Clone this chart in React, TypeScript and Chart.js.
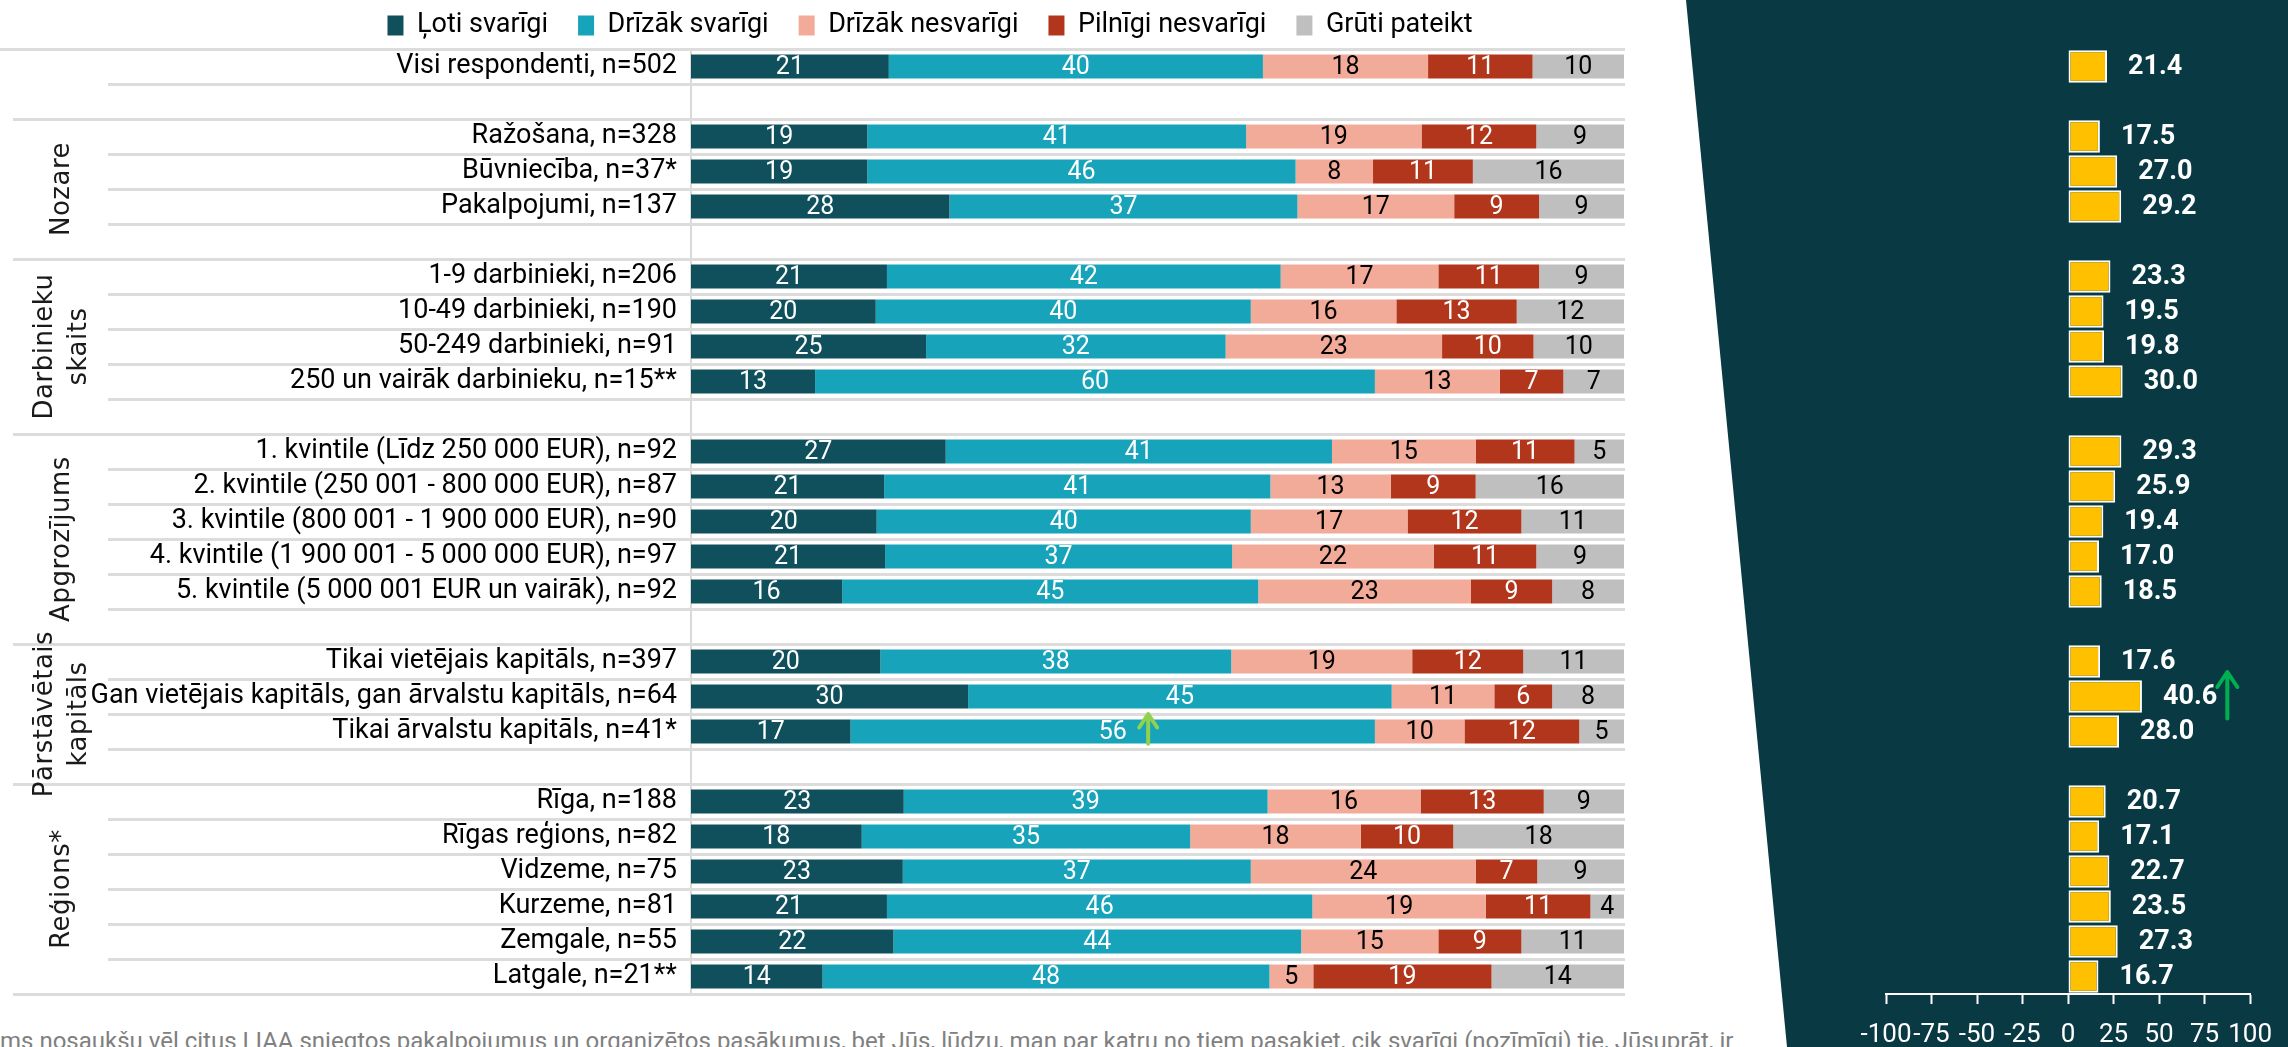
import React, { useEffect, useRef } from 'react';
import { Chart, registerables } from 'chart.js';

Chart.register(...registerables);

const FONT = 'Roboto, "Noto Sans", sans-serif';
const GROUP_FONT = '"DejaVu Sans", Verdana, sans-serif';

// ---- data ----
const categories = [
  'Visi respondenti, n=502',
  '',
  'Ražošana, n=328',
  'Būvniecība, n=37*',
  'Pakalpojumi, n=137',
  '',
  '1-9 darbinieki, n=206',
  '10-49 darbinieki, n=190',
  '50-249 darbinieki, n=91',
  '250 un vairāk darbinieku, n=15**',
  '',
  '1. kvintile (Līdz 250 000 EUR), n=92',
  '2. kvintile (250 001 - 800 000 EUR), n=87',
  '3. kvintile (800 001 - 1 900 000 EUR), n=90',
  '4. kvintile (1 900 001 - 5 000 000 EUR), n=97',
  '5. kvintile (5 000 001 EUR un vairāk), n=92',
  '',
  'Tikai vietējais kapitāls, n=397',
  'Gan vietējais kapitāls, gan ārvalstu kapitāls, n=64',
  'Tikai ārvalstu kapitāls, n=41*',
  '',
  'Rīga, n=188',
  'Rīgas reģions, n=82',
  'Vidzeme, n=75',
  'Kurzeme, n=81',
  'Zemgale, n=55',
  'Latgale, n=21**',
];

const seriesNames = ['Ļoti svarīgi', 'Drīzāk svarīgi', 'Drīzāk nesvarīgi', 'Pilnīgi nesvarīgi', 'Grūti pateikt'];

const veryImportant = [21.2, null, 18.9, 18.9, 27.7, null, 21.0, 19.8, 25.2, 13.3, null, 27.3, 20.7, 19.9, 20.8, 16.2, null, 20.3, 29.7, 17.1, null, 22.8, 18.3, 22.7, 21.0, 21.7, 14.1];
const ratherImportant = [40.1, null, 40.6, 45.9, 37.3, null, 42.2, 40.2, 32.1, 60.0, null, 41.4, 41.4, 40.1, 37.2, 44.6, null, 37.6, 45.4, 56.2, null, 39.0, 35.2, 37.3, 45.6, 43.7, 47.9];
const ratherUnimportant = [17.7, null, 18.8, 8.3, 16.8, null, 16.9, 15.6, 23.2, 13.4, null, 15.4, 12.9, 16.8, 21.6, 22.8, null, 19.4, 11.0, 9.6, null, 16.4, 18.3, 24.1, 18.6, 14.7, 4.7];
const notImportant = [11.2, null, 12.3, 10.7, 9.1, null, 10.8, 12.9, 9.8, 6.8, null, 10.6, 9.1, 12.2, 11.0, 8.7, null, 11.9, 6.2, 12.3, null, 13.2, 9.9, 6.6, 11.2, 8.9, 19.1];
const hardToSay = [9.8, null, 9.4, 16.2, 9.1, null, 9.1, 11.5, 9.7, 6.5, null, 5.3, 15.9, 11.0, 9.4, 7.7, null, 10.8, 7.7, 4.8, null, 8.6, 18.3, 9.3, 3.6, 11.0, 14.2];

const indexScores = [21.4, null, 17.5, 27.0, 29.2, null, 23.3, 19.5, 19.8, 30.0, null, 29.3, 25.9, 19.4, 17.0, 18.5, null, 17.6, 40.6, 28.0, null, 20.7, 17.1, 22.7, 23.5, 27.3, 16.7];

const rightTicks = [-100, -75, -50, -25, 0, 25, 50, 75, 100];

const groups = [
  { lines: ['Nozare'], first: 2, last: 4 },
  { lines: ['Darbinieku', 'skaits'], first: 6, last: 9 },
  { lines: ['Apgrozījums'], first: 11, last: 15 },
  { lines: ['Pārstāvētais', 'kapitāls'], first: 17, last: 19 },
  { lines: ['Reģions*'], first: 21, last: 26 },
];

const footnote =
  'ms nosaukšu vēl citus LIAA sniegtos pakalpojumus un organizētos pasākumus, bet Jūs, lūdzu, man par katru no tiem pasakiet, cik svarīgi (nozīmīgi) tie, Jūsuprāt, ir';

// arrows: [value on x axis, tail index, tip index]
const leftArrow = [49, 19.35, 18.5];
const rightArrow = [87.5, 18.63, 17.3];

// ---- styles ----
const seriesColors = ['#10505c', '#17a3ba', '#f2aa99', '#b2361b', '#bfbfbf'];
const seriesTextColors = ['#ffffff', '#ffffff', '#000000', '#ffffff', '#000000'];

function drawArrow(ctx: CanvasRenderingContext2D, x: number, yTail: number, yTip: number, color: string, lw: number, head: number) {
  ctx.save();
  ctx.strokeStyle = color;
  ctx.lineWidth = lw;
  ctx.lineCap = 'round';
  ctx.lineJoin = 'round';
  ctx.beginPath();
  ctx.moveTo(x, yTail);
  ctx.lineTo(x, yTip + 2);
  ctx.moveTo(x - head, yTip + head * 1.5);
  ctx.lineTo(x, yTip);
  ctx.lineTo(x + head, yTip + head * 1.5);
  ctx.stroke();
  ctx.restore();
}

const rowLinesPlugin = {
  id: 'rowLines',
  beforeDatasetsDraw(chart: any) {
    const { ctx, chartArea, scales } = chart;
    const y = scales.y;
    const longEdges = [-0.5, categories.length - 0.5, ...groups.map((g) => g.first - 0.5)];
    ctx.save();
    ctx.strokeStyle = '#dcdcdc';
    ctx.lineWidth = 3;
    for (let b = -0.5; b <= categories.length - 0.5; b += 1) {
      const py = Math.round(y.getPixelForValue(b)) + 0.5;
      const isLong = longEdges.includes(b);
      const x0 = b === -0.5 ? 0 : isLong ? 13 : 108;
      ctx.beginPath();
      ctx.moveTo(x0, py);
      ctx.lineTo(chartArea.right + 1, py);
      ctx.stroke();
    }
    ctx.restore();
  },
};

const groupLabelsPlugin = {
  id: 'groupLabels',
  afterDraw(chart: any) {
    const { ctx, scales } = chart;
    const y = scales.y;
    const lastEdge = categories.length - 0.5;
    ctx.save();
    ctx.fillStyle = '#1a1a1a';
    ctx.font = `26px ${GROUP_FONT}`;
    (ctx as any).letterSpacing = '0.5px';
    ctx.textAlign = 'center';
    ctx.textBaseline = 'middle';
    groups.forEach((g) => {
      const top = y.getPixelForValue(g.first - 0.5);
      const bottom = y.getPixelForValue(Math.min(g.last + 1.5, lastEdge));
      const cy = (top + bottom) / 2;
      const n = g.lines.length;
      g.lines.forEach((line, k) => {
        const cx = 62 + (k - (n - 1) / 2) * 34;
        ctx.save();
        ctx.translate(cx, cy);
        ctx.rotate(-Math.PI / 2);
        ctx.fillText(line, 0, 0);
        ctx.restore();
      });
    });
    ctx.restore();
  },
};

const segmentLabelsPlugin = {
  id: 'segmentLabels',
  afterDatasetsDraw(chart: any) {
    const { ctx } = chart;
    ctx.save();
    ctx.font = `25px ${FONT}`;
    ctx.textAlign = 'center';
    ctx.textBaseline = 'middle';
    chart.data.datasets.forEach((ds: any, i: number) => {
      const meta = chart.getDatasetMeta(i);
      meta.data.forEach((el: any, j: number) => {
        const v = ds.data[j];
        if (v === null || v === undefined) return;
        const p = el.getProps(['x', 'y', 'base'], true);
        ctx.fillStyle = seriesTextColors[i];
        ctx.fillText(String(Math.round(v)), (p.x + p.base) / 2, p.y + 1);
      });
    });
    drawArrow(
      ctx,
      chart.scales.x.getPixelForValue(leftArrow[0]),
      chart.scales.y.getPixelForValue(leftArrow[1]),
      chart.scales.y.getPixelForValue(leftArrow[2]),
      '#92d050',
      4,
      9
    );
    ctx.restore();
  },
};

const scoreLabelsPlugin = {
  id: 'scoreLabels',
  afterDatasetsDraw(chart: any) {
    const { ctx } = chart;
    ctx.save();
    ctx.font = `bold 27px ${FONT}`;
    ctx.textAlign = 'left';
    ctx.textBaseline = 'middle';
    ctx.fillStyle = '#ffffff';
    const meta = chart.getDatasetMeta(0);
    const ds = chart.data.datasets[0];
    meta.data.forEach((el: any, j: number) => {
      const v = ds.data[j];
      if (v === null || v === undefined) return;
      const p = el.getProps(['x', 'y'], true);
      ctx.fillText(v.toFixed(1), p.x + 21, p.y + 1);
    });
    drawArrow(
      ctx,
      chart.scales.x.getPixelForValue(rightArrow[0]),
      chart.scales.y.getPixelForValue(rightArrow[1]),
      chart.scales.y.getPixelForValue(rightArrow[2]),
      '#00b050',
      4,
      10
    );
    ctx.restore();
  },
};

export default function App() {
  const leftRef = useRef<HTMLCanvasElement>(null);
  const rightRef = useRef<HTMLCanvasElement>(null);

  useEffect(() => {
    Chart.defaults.font.family = FONT;
    const datasets = [veryImportant, ratherImportant, ratherUnimportant, notImportant, hardToSay].map((d, i) => ({
      label: seriesNames[i],
      data: d,
      backgroundColor: seriesColors[i],
      borderWidth: 0,
      barPercentage: 0.68,
      categoryPercentage: 1,
    }));

    const left = new Chart(leftRef.current as HTMLCanvasElement, {
      type: 'bar',
      data: { labels: categories, datasets },
      options: {
        indexAxis: 'y',
        responsive: false,
        maintainAspectRatio: false,
        animation: false,
        devicePixelRatio: 1,
        layout: { padding: { left: 0, right: 0, top: 0, bottom: 53 } },
        scales: {
          x: { stacked: true, min: 0, max: 100, display: false },
          y: {
            stacked: true,
            grid: { display: false, drawTicks: false },
            border: { display: true, color: '#d9d9d9', width: 2 },
            ticks: { color: '#000000', padding: 14, autoSkip: false, font: { family: FONT, size: 27 } },
            afterFit: (s: any) => {
              s.width = 691;
            },
          },
          spacer: {
            type: 'linear',
            position: 'right',
            display: true,
            ticks: { display: false },
            grid: { display: false, drawTicks: false },
            border: { display: false },
            afterFit: (s: any) => {
              s.width = 236;
            },
          },
        },
        plugins: {
          legend: {
            position: 'top',
            labels: {
              boxWidth: 16,
              boxHeight: 20,
              padding: 30,
              color: '#000000',
              font: { family: FONT, size: 27 },
            },
          },
          tooltip: { enabled: false },
        },
      } as any,
      plugins: [rowLinesPlugin, segmentLabelsPlugin, groupLabelsPlugin],
    });

    const right = new Chart(rightRef.current as HTMLCanvasElement, {
      type: 'bar',
      data: {
        labels: categories,
        datasets: [
          {
            label: 'Indekss',
            data: indexScores,
            backgroundColor: '#ffc000',
            borderColor: '#ffffff',
            borderWidth: 2,
            borderSkipped: false,
            barPercentage: 0.93,
            categoryPercentage: 1,
          },
        ],
      },
      options: {
        indexAxis: 'y',
        responsive: false,
        maintainAspectRatio: false,
        animation: false,
        devicePixelRatio: 1,
        layout: { padding: { left: 186, right: 25, top: 49, bottom: 0 } },
        scales: {
          y: { display: false },
          x: {
            min: rightTicks[0],
            max: rightTicks[rightTicks.length - 1],
            afterBuildTicks: (s: any) => {
              s.ticks = rightTicks.map((v) => ({ value: v }));
            },
            ticks: { color: '#ffffff', padding: 16, autoSkip: false, maxRotation: 0, font: { family: FONT, size: 26 } },
            grid: { drawOnChartArea: false, drawTicks: true, tickLength: 10, tickColor: '#ffffff', tickWidth: 2 },
            border: { display: true, color: '#ffffff', width: 2 },
            afterFit: (s: any) => {
              s.height = 53;
            },
          },
        },
        plugins: { legend: { display: false }, tooltip: { enabled: false } },
      } as any,
      plugins: [scoreLabelsPlugin],
    });

    return () => {
      left.destroy();
      right.destroy();
    };
  }, []);

  return (
    <div style={{ position: 'absolute', left: 0, top: 0, width: 2288, height: 1047, overflow: 'hidden', background: '#ffffff' }}>
      <div
        style={{
          position: 'absolute',
          left: 0,
          top: 1028,
          fontFamily: FONT,
          fontSize: 24,
          lineHeight: '26px',
          color: '#808080',
          whiteSpace: 'nowrap',
        }}
      >
        {footnote}
      </div>
      <div
        style={{
          position: 'absolute',
          left: 0,
          top: 0,
          width: 2288,
          height: 1047,
          background: '#093a44',
          clipPath: 'polygon(1686px 0px, 2288px 0px, 2288px 1047px, 1787px 1047px)',
        }}
      />
      <canvas ref={leftRef} width={1860} height={1065} style={{ position: 'absolute', left: 0, top: -18, width: 1860, height: 1065 }} />
      <canvas ref={rightRef} width={588} height={1047} style={{ position: 'absolute', left: 1700, top: 0, width: 588, height: 1047 }} />
    </div>
  );
}
